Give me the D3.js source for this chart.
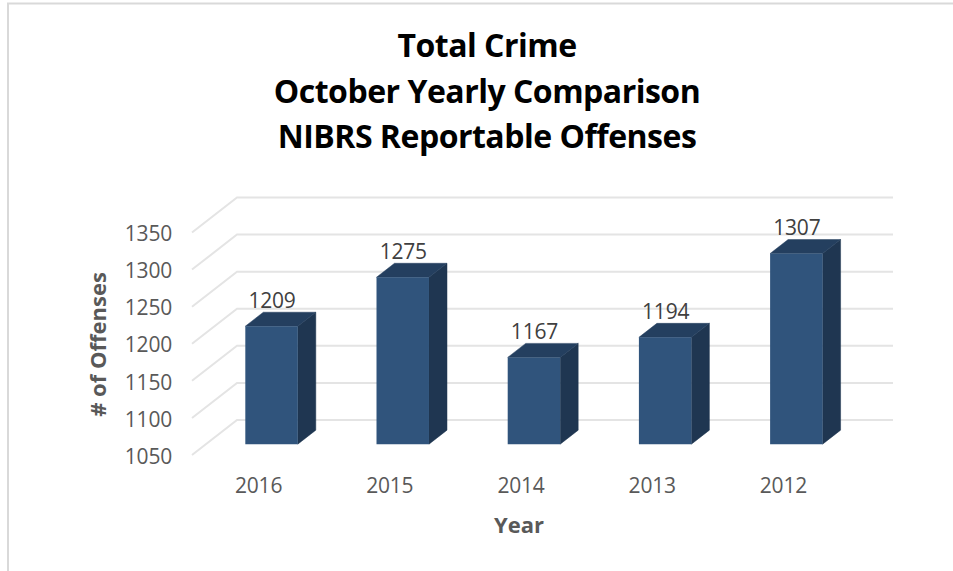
<!DOCTYPE html>
<html>
<head>
<meta charset="utf-8">
<script src="https://cdn.jsdelivr.net/npm/d3@7"></script>
<style>
html, body { margin: 0; padding: 0; background: #fff; }
svg { display: block; }
text { font-family: "Open Sans", sans-serif; }
</style>
</head>
<body>
<script>
var years = ["2016", "2015", "2014", "2013", "2012"]
var offenses = [1209, 1275, 1167, 1194, 1307]
var yTicks = [1050, 1100, 1150, 1200, 1250, 1300, 1350]
var titleLines = ["Total Crime", "October Yearly Comparison", "NIBRS Reportable Offenses"]

var width = 953, height = 571

var svg = d3.select("body").append("svg")
  .attr("width", width)
  .attr("height", height)

// frame, open on the right and bottom like the crop
svg.append("path")
  .attr("d", "M8,571V3.5H953")
  .attr("fill", "none")
  .attr("stroke", "#d9d9d9")
  .attr("stroke-width", 2)

// scales describe the back wall, depth slides a point towards the viewer
var x = d3.scaleBand()
  .domain(years)
  .range([237, 893])
  .paddingInner(0.6)
  .paddingOuter(0.3)

var y = d3.scaleLinear()
  .domain([1050, 1350])
  .range([420, 197.5])

var floorDx = 45, floorDy = 35
var barFront = 0.69, barBack = 0.29

function px(xval, depth) { return xval - floorDx * depth }
function py(v, depth) { return y(v) + floorDy * depth }

function poly(points) {
  return "M" + points.map(function(p) { return p[0] + "," + p[1] }).join("L") + "Z"
}

// gridlines
svg.append("g").selectAll("path")
  .data(yTicks)
  .enter().append("path")
  .attr("fill", "none")
  .attr("stroke", "#e4e4e4")
  .attr("stroke-width", 2)
  .attr("d", function(d) {
    return "M" + px(x.range()[0], 1) + "," + py(d, 1) +
      "L" + x.range()[0] + "," + y(d) +
      "L" + x.range()[1] + "," + y(d)
  })

// bars
var bars = svg.append("g").selectAll("g")
  .data(years.map(function(d, i) { return {year: d, value: offenses[i]} }))
  .enter().append("g")

function corners(d) {
  var l = x(d.year), r = l + x.bandwidth()
  return {
    fl: px(l, barFront), fr: px(r, barFront),
    bl: px(l, barBack), br: px(r, barBack),
    ft: py(d.value, barFront), fb: py(1050, barFront),
    bt: py(d.value, barBack), bb: py(1050, barBack)
  }
}

bars.append("path")
  .attr("fill", "#1f3651")
  .attr("stroke", "#1f3651")
  .attr("stroke-width", 0.5)
  .attr("d", function(d) {
    var c = corners(d)
    return poly([[c.fr, c.ft], [c.br, c.bt], [c.br, c.bb], [c.fr, c.fb]])
  })

bars.append("path")
  .attr("fill", "#243f5f")
  .attr("stroke", "#243f5f")
  .attr("stroke-width", 0.5)
  .attr("d", function(d) {
    var c = corners(d)
    return poly([[c.fl, c.ft], [c.bl, c.bt], [c.br, c.bt], [c.fr, c.ft]])
  })

bars.append("path")
  .attr("fill", "#30547c")
  .attr("d", function(d) {
    var c = corners(d)
    return poly([[c.fl, c.ft], [c.fr, c.ft], [c.fr, c.fb], [c.fl, c.fb]])
  })

// data labels
bars.append("text")
  .attr("x", function(d) { return px(x(d.year) + x.bandwidth() / 2, barFront) + 0.5 })
  .attr("y", function(d) { return y(d.value) + 6 })
  .attr("text-anchor", "middle")
  .attr("fill", "#404040")
  .style("font-size", "21px")
  .style("letter-spacing", "-0.2px")
  .text(function(d) { return d.value })

// y axis sits on the front edge of the floor
var yAxis = d3.axisLeft(y).tickValues(yTicks).tickFormat(d3.format("d")).tickSize(0).tickPadding(0)
var yg = svg.append("g")
  .attr("transform", "translate(172," + (floorDy + 1.5) + ")")
  .call(yAxis)
yg.select(".domain").remove()
yg.selectAll("text")
  .attr("fill", "#595959")
  .style("font-size", "21px")
  .style("letter-spacing", "-0.2px")
  .style("font-family", "Open Sans")

// x axis labels
var xAxis = d3.axisBottom(x).tickSize(0).tickPadding(0)
var xg = svg.append("g")
  .attr("transform", "translate(" + (-floorDx + 1) + ",478)")
  .call(xAxis)
xg.select(".domain").remove()
xg.selectAll("text")
  .attr("fill", "#595959")
  .style("font-size", "21px")
  .style("letter-spacing", "-0.2px")
  .style("font-family", "Open Sans")

// titles
svg.append("g").selectAll("text")
  .data(titleLines)
  .enter().append("text")
  .attr("x", 487)
  .attr("y", function(d, i) { return 57 + i * 45.5 })
  .attr("text-anchor", "middle")
  .attr("fill", "#000")
  .style("font-size", "32px")
  .style("font-weight", "700")
  .style("letter-spacing", "-0.5px")
  .text(function(d) { return d })

svg.append("text")
  .attr("transform", "translate(106,344.5) rotate(-90)")
  .attr("text-anchor", "middle")
  .attr("fill", "#595959")
  .style("font-size", "22px")
  .style("font-weight", "700")
  .text("# of Offenses")

svg.append("text")
  .attr("x", 519)
  .attr("y", 533)
  .attr("text-anchor", "middle")
  .attr("fill", "#595959")
  .style("font-size", "22px")
  .style("font-weight", "700")
  .text("Year")
</script>
</body>
</html>
